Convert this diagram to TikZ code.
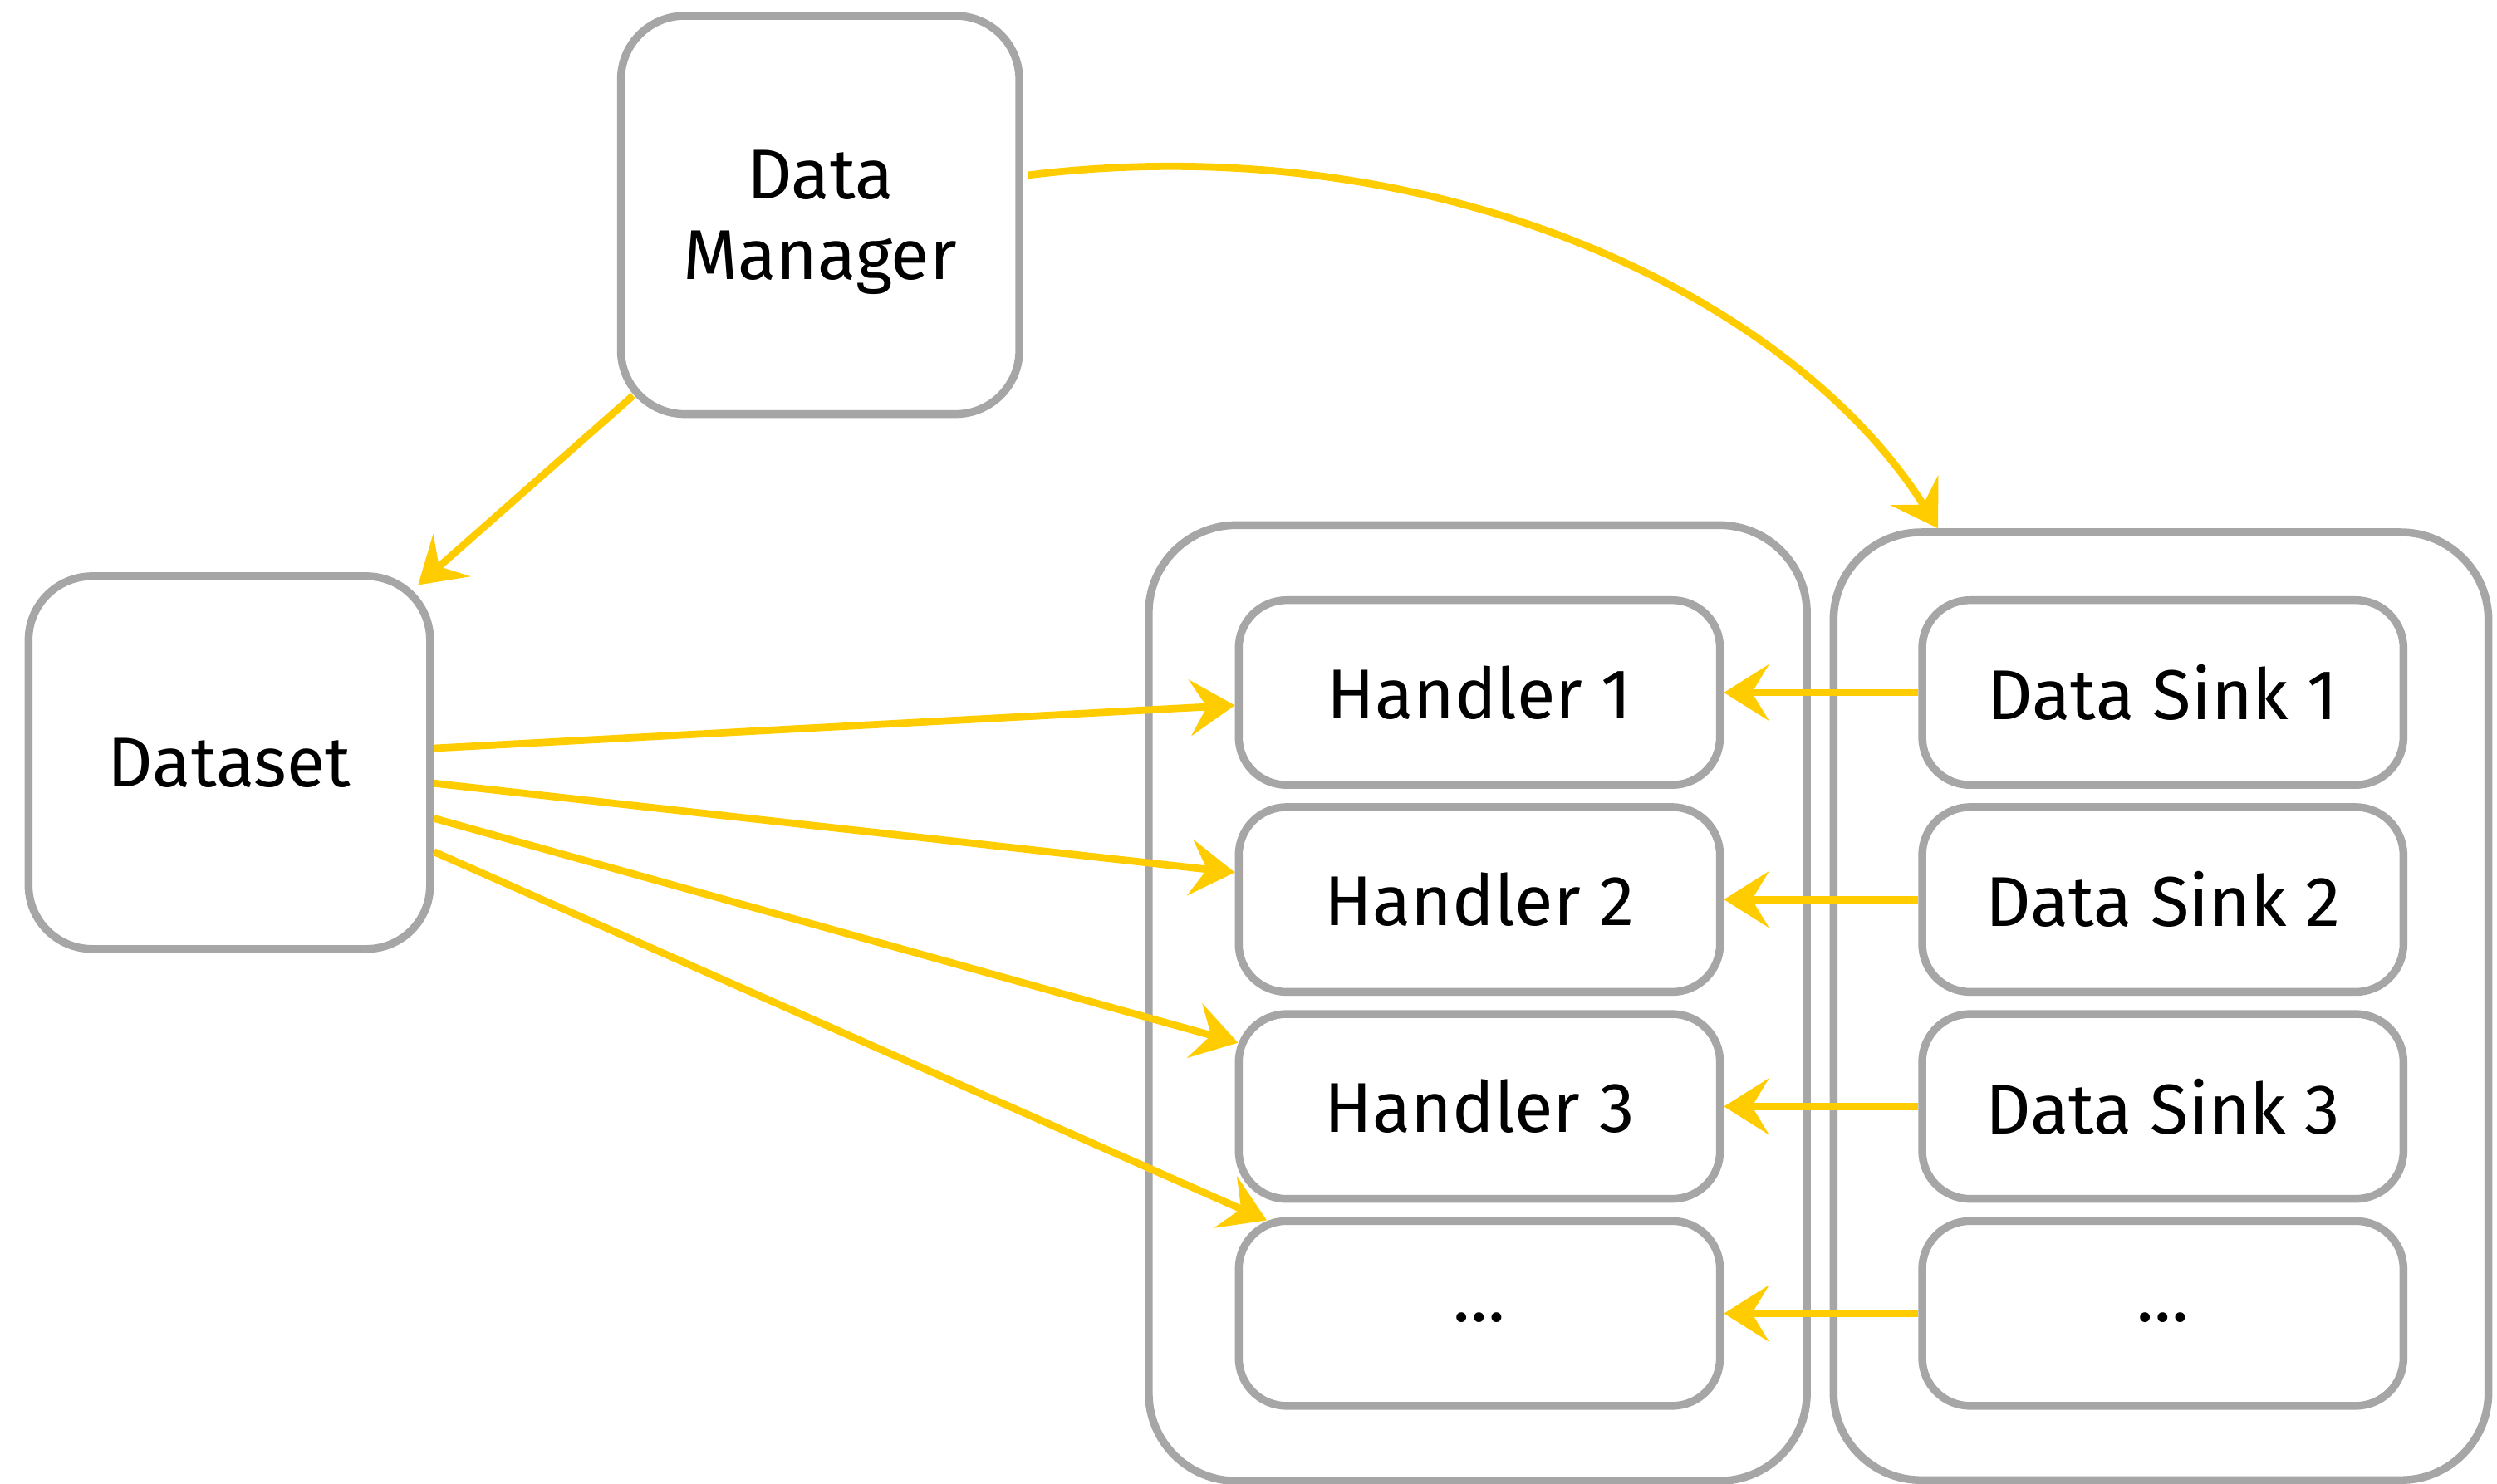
\documentclass[tikz,border=0pt]{standalone}
\usepackage{fontspec}
\setmainfont{Fira Sans}
\usetikzlibrary{positioning,arrows.meta,calc}
\definecolor{boxgray}{HTML}{A6A6A6}
\definecolor{flowyellow}{HTML}{FFCC00}

\begin{document}
\begin{tikzpicture}
[
x=0.01cm, y=-0.01cm,
>={Stealth[length=8pt,width=10pt,inset=3pt]},
big/.style={rectangle, rounded corners=0.4cm, draw=boxgray, line width=1.4pt, fill=white, align=center, font=\fontsize{12.6}{14.5}\selectfont},
column/.style={rectangle, rounded corners=0.55cm, draw=boxgray, line width=1.4pt, fill=white},
part/.style={rectangle, rounded corners=0.3cm, draw=boxgray, line width=1.4pt, fill=white, minimum width=3.02cm, minimum height=1.16cm, font=\fontsize{12.6}{14.5}\selectfont},
flow/.style={->, color=flowyellow, line width=1.3pt}
]
\useasboundingbox (0,0) rectangle (1568,932);

%Nodes
\node[big, minimum width=2.5cm, minimum height=2.5cm, text depth=0pt] (manager) at (515,135) {Data\\Manager};
\node[big, minimum width=2.52cm, minimum height=2.34cm] (dataset)  at (144,479)  {Dataset};
\node[column, minimum width=4.13cm, minimum height=6cm]    (handlers) at (928,630)  {};
\node[column, minimum width=4.11cm, minimum height=5.95cm] (sinks)    at (1357,632) {};

\node[part]     (h1)    at (929,435)            {Handler 1};
\node[part]     (h2)    [below=0.09cm of h1]    {Handler 2};
\node[part]     (h3)    [below=0.09cm of h2]    {Handler 3};
\node[part]     (h4)    [below=0.09cm of h3]    {\raisebox{-0.25em}{\dots}};

\node[part]     (s1)    [right=1.22cm of h1]    {Data Sink 1};
\node[part]     (s2)    [right=1.22cm of h2]    {Data Sink 2};
\node[part]     (s3)    [right=1.22cm of h3]    {Data Sink 3};
\node[part]     (s4)    [right=1.22cm of h4]    {\raisebox{-0.25em}{\dots}};

%Lines
\draw[flow] ($(manager.south west)+(10,-14)$) -- ($(dataset.north east)+(-10,8)$);
\draw[flow] ($(manager.east)+(3,-25)$) .. controls +(7:2.6cm) and +(122:1.7cm) .. (sinks.115);
\draw[flow] ($(dataset.east)+(0,-9)$) -- ($(h1.west)+(0,8)$);
\draw[flow] ($(dataset.east)+(0,13)$) -- ($(h2.west)+(0,-17)$);
\draw[flow] ($(dataset.east)+(0,35)$) -- ($(h3.west)+(2,-40)$);
\draw[flow] ($(dataset.east)+(0,56)$) -- ($(h4.north west)+(20,2)$);
\path[flow]
(s1) edge (h1)
(s2) edge (h2)
(s3) edge (h3)
(s4) edge (h4);

\end{tikzpicture}
\end{document}
